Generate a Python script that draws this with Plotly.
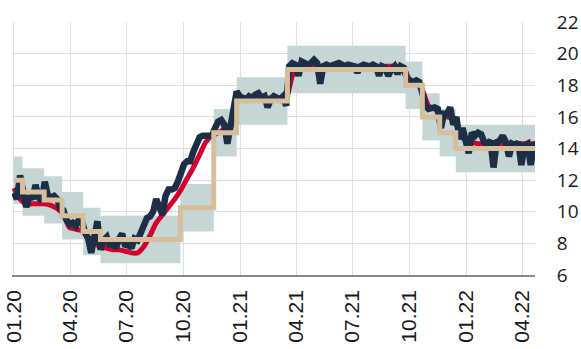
import pandas as pd
import plotly.graph_objects as go

# Step (policy) line: start dates and levels; band = level +/- 1.5
step_dates = ["2020-01-01", "2020-01-15", "2020-02-19", "2020-03-19", "2020-04-22",
              "2020-05-20", "2020-09-26", "2020-11-19", "2020-12-26", "2021-03-18",
              "2021-09-25", "2021-10-22", "2021-11-19", "2021-12-15", "2022-04-30"]
step_values = [12.0, 11.25, 10.75, 9.75, 8.75, 8.25, 10.25, 15.0, 17.0, 19.0,
               18.0, 16.0, 15.0, 14.0, 14.0]
band_half_width = 1.5

# Dark series, sampled every 5 days from 2020-01-01
dark_start = "2020-01-01"
dark_values = [
    11.2, 10.8, 12.3, 11.2, 10.3, 11.0, 10.8, 11.7, 10.9, 10.7,
    11.9, 11.0, 10.9, 11.0, 10.8, 10.2, 10.1, 9.5, 9.2, 9.3,
    9.1, 9.5, 9.4, 8.7, 8.3, 7.4, 8.5, 9.4, 7.6, 8.2,
    8.4, 7.8, 8.1, 7.7, 8.3, 8.6, 7.8, 8.0, 7.7, 8.3,
    8.2, 8.6, 9.1, 9.6, 9.7, 10.0, 10.8, 10.4, 9.8, 11.0,
    11.4, 11.4, 11.5, 11.9, 12.5, 13.0, 13.2, 13.2, 13.8, 14.4,
    14.7, 14.8, 14.8, 14.75, 14.8, 15.3, 15.7, 15.8, 15.5, 14.3,
    15.5, 16.2, 17.6, 17.3, 17.2, 17.1, 17.3, 17.2, 17.4, 17.5,
    17.2, 17.3, 16.6, 17.1, 17.3, 17.2, 17.1, 17.3, 16.7, 19.2,
    19.4, 19.3, 18.6, 19.5, 19.4, 19.3, 19.4, 19.6, 19.4, 18.1,
    19.2, 19.3, 19.2, 19.3, 19.3, 19.4, 19.3, 19.2, 19.3, 19.3,
    19.2, 18.8, 19.2, 19.3, 19.2, 19.2, 19.3, 19.2, 18.6, 19.2,
    19.1, 18.6, 19.0, 19.2, 18.7, 19.2, 19.1, 18.4, 18.3, 18.2,
    18.3, 18.2, 17.5, 16.7, 16.5, 16.6, 16.6, 16.5, 15.3, 16.2,
    16.2, 16.6, 15.5, 16.0, 14.6, 15.3, 14.6, 13.7, 15.0, 14.8,
    15.0, 14.9, 14.4, 14.3, 14.5, 12.8, 14.4, 14.5, 14.8, 14.4,
    13.5, 14.3, 14.2, 14.4, 12.95, 14.2, 14.3, 12.95, 14.2, 14.3,
]

# Red (smoothed) series, sampled every 10 days from 2020-01-01
red_start = "2020-01-01"
red_values = [
    11.5, 10.8, 10.5, 10.5, 10.5, 10.5, 10.4, 10.2, 9.8, 9.0,
    8.9, 8.8, 8.4, 8.0, 7.8, 7.7, 7.6, 7.6, 7.5, 7.4,
    7.4, 7.8, 8.5, 9.3, 9.8, 10.3, 10.8, 11.4, 12.1, 12.8,
    13.6, 14.4, 14.8, 15.0, 15.2, 15.3, 16.9, 17.2, 17.2, 17.2,
    17.2, 17.2, 17.2, 17.2, 17.2, 18.6, 19.2, 19.2, 19.2, 19.2,
    19.2, 19.2, 19.2, 19.2, 19.2, 19.2, 19.2, 19.2, 19.2, 19.2,
    19.2, 19.2, 19.2, 19.1, 18.3, 18.2, 17.7, 16.7, 16.5, 16.1,
    16.0, 15.9, 15.0, 14.5, 14.4, 14.3, 14.3, 14.3, 14.3, 14.3,
    14.3, 14.3, 14.3, 14.3, 14.3, 14.3,
]

x_ticks = ["2020-01-01", "2020-04-01", "2020-07-01", "2020-10-01", "2021-01-01",
           "2021-04-01", "2021-07-01", "2021-10-01", "2022-01-01", "2022-04-01"]
x_tick_labels = ["01.20", "04.20", "07.20", "10.20", "01.21",
                 "04.21", "07.21", "10.21", "01.22", "04.22"]
y_ticks = [6, 8, 10, 12, 14, 16, 18, 20, 22]

dark_dates = pd.date_range(dark_start, periods=len(dark_values), freq="5D")
red_dates = pd.date_range(red_start, periods=len(red_values), freq="10D")
band_low = [v - band_half_width for v in step_values]
band_high = [v + band_half_width for v in step_values]

BAND = "#c6d6d5"
BEIGE = "#d6bf9a"
RED = "#d5002d"
DARK = "#1c2f47"

fig = go.Figure()
fig.add_trace(go.Scatter(x=step_dates, y=band_low, mode="lines",
                         line=dict(width=0, shape="hv", color=BAND),
                         hoverinfo="skip", showlegend=False))
fig.add_trace(go.Scatter(x=step_dates, y=band_high, mode="lines",
                         line=dict(width=0, shape="hv", color=BAND),
                         fill="tonexty", fillcolor=BAND,
                         hoverinfo="skip", showlegend=False))
fig.add_trace(go.Scatter(x=red_dates, y=red_values, mode="lines",
                         line=dict(color=RED, width=5, shape="spline", smoothing=0.6),
                         showlegend=False))
fig.add_trace(go.Scatter(x=dark_dates, y=dark_values, mode="lines",
                         line=dict(color=DARK, width=6.5),
                         showlegend=False))
fig.add_trace(go.Scatter(x=step_dates, y=step_values, mode="lines",
                         line=dict(color=BEIGE, width=5, shape="hv"),
                         showlegend=False))

fig.update_layout(
    width=581, height=349,
    margin=dict(l=12, r=46, t=22, b=74),
    paper_bgcolor="white", plot_bgcolor="white",
    font=dict(family="Open Sans", size=20, color="#1a1a1a"),
    showlegend=False,
)
fig.update_xaxes(
    type="date", range=["2019-12-29", "2022-04-22"],
    tickvals=x_ticks, ticktext=x_tick_labels, tickangle=-90,
    showgrid=True, gridcolor="#dedede", gridwidth=1.3,
    showline=True, linecolor="#8a8a8a", linewidth=1.5,
    ticks="outside", ticklen=5, tickcolor="rgba(0,0,0,0)",
    tickfont=dict(size=21, family="Liberation Sans"), zeroline=False,
    automargin=False, ticklabeloverflow="allow",
)
fig.update_yaxes(
    side="right", range=[6, 22], tickvals=y_ticks,
    showgrid=True, gridcolor="#dedede", gridwidth=1.3,
    showline=False, zeroline=False,
    ticks="outside", ticklen=17, tickcolor="rgba(0,0,0,0)",
    tickfont=dict(size=19), automargin=False,
)

fig.write_html("out.html")
